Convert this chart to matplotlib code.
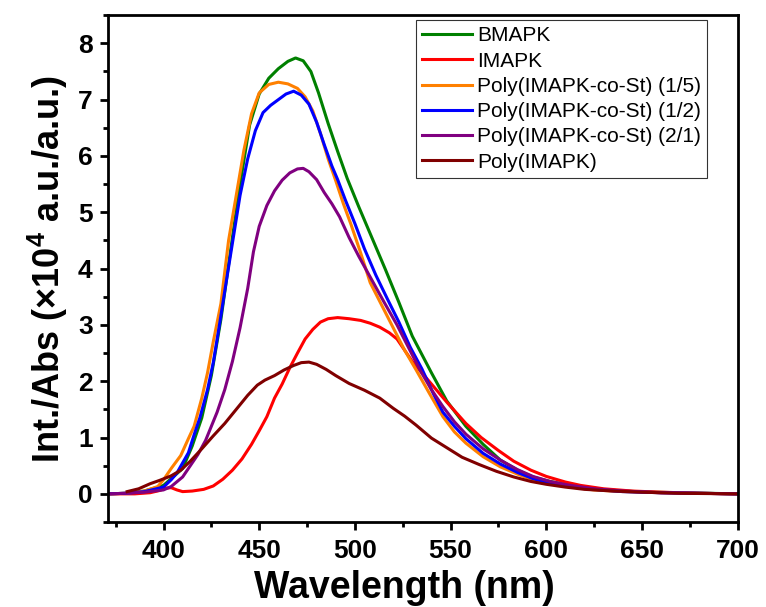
import matplotlib
matplotlib.use("Agg")
import matplotlib.pyplot as plt
from matplotlib.ticker import MultipleLocator

plt.rcParams["font.family"] = ["Liberation Sans", "DejaVu Sans"]
plt.rcParams["font.weight"] = "bold"
plt.rcParams["mathtext.fontset"] = "custom"
plt.rcParams["mathtext.rm"] = "Liberation Sans:bold"
plt.rcParams["mathtext.bf"] = "Liberation Sans:bold"

# ── data ─────────────────────────────────────────────────────────────────────
bmapk_x = [371, 380, 390, 400, 410, 415, 420, 425, 430, 436, 440, 445, 450, 455,
           460, 465, 469, 473, 477, 481, 486, 491, 496, 502, 508, 516, 523, 530,
           540, 548, 558, 567, 576, 585, 593, 602, 611, 625, 640, 655, 670, 685, 700]
bmapk_y = [0.0, 0.01, 0.05, 0.15, 0.45, 0.85, 1.35, 2.1, 3.1, 4.55, 5.5, 6.55, 7.1,
           7.38, 7.55, 7.68, 7.74, 7.69, 7.5, 7.12, 6.58, 6.08, 5.6, 5.1, 4.62, 3.98,
           3.4, 2.8, 2.15, 1.65, 1.2, 0.88, 0.6, 0.42, 0.3, 0.22, 0.16, 0.09, 0.05,
           0.03, 0.02, 0.01, 0.0]

imapk_x = [371, 385, 393, 398, 401, 404, 407, 410, 415, 421, 426, 431, 436, 441, 446,
           450, 454, 458, 462, 466, 470, 474, 478, 482, 486, 491, 497, 503, 508, 513,
           518, 522, 526, 530, 535, 540, 548, 558, 566, 575, 583, 592, 600, 610, 618,
           630, 645, 660, 680, 700]
imapk_y = [0.0, 0.0, 0.02, 0.06, 0.1, 0.11, 0.07, 0.04, 0.05, 0.08, 0.14, 0.26, 0.42,
           0.62, 0.88, 1.12, 1.37, 1.7, 1.95, 2.24, 2.5, 2.75, 2.92, 3.05, 3.11, 3.13,
           3.11, 3.08, 3.03, 2.96, 2.86, 2.75, 2.55, 2.35, 2.15, 1.95, 1.63, 1.25, 1.0,
           0.77, 0.58, 0.42, 0.31, 0.21, 0.15, 0.09, 0.05, 0.03, 0.01, 0.0]

co15_x = [371, 380, 390, 397, 400, 404, 409, 413, 416, 420, 423, 426, 430, 434, 438,
          442, 446, 450, 455, 460, 465, 470, 474, 478, 482, 486, 490, 494, 498, 503,
          508, 514, 520, 526, 532, 539, 546, 552, 558, 567, 576, 585, 593, 602, 611,
          625, 640, 660, 680, 700]
co15_y = [0.0, 0.01, 0.05, 0.13, 0.25, 0.45, 0.68, 0.98, 1.2, 1.7, 2.15, 2.7, 3.38,
          4.5, 5.3, 6.1, 6.75, 7.12, 7.27, 7.31, 7.28, 7.2, 7.05, 6.8, 6.4, 5.95, 5.56,
          5.15, 4.78, 4.28, 3.75, 3.35, 2.95, 2.55, 2.2, 1.78, 1.37, 1.1, 0.9, 0.66,
          0.48, 0.35, 0.25, 0.18, 0.13, 0.07, 0.04, 0.02, 0.01, 0.0]

co12_x = [371, 380, 390, 400, 404, 407, 410, 413, 416, 419, 423, 426, 429, 432, 436,
          440, 444, 448, 452, 456, 460, 464, 468, 472, 476, 480, 484, 488, 491, 495,
          500, 505, 511, 517, 523, 529, 535, 541, 546, 552, 558, 567, 576, 585, 593,
          602, 611, 625, 640, 660, 680, 700]
co12_y = [0.0, 0.01, 0.04, 0.12, 0.25, 0.37, 0.55, 0.73, 1.05, 1.35, 1.85, 2.33, 2.95,
          3.6, 4.45, 5.3, 5.95, 6.45, 6.77, 6.9, 7.0, 7.1, 7.15, 7.08, 6.92, 6.6, 6.2,
          5.82, 5.58, 5.22, 4.8, 4.35, 3.88, 3.46, 3.05, 2.6, 2.22, 1.78, 1.45, 1.2,
          0.98, 0.72, 0.53, 0.38, 0.27, 0.19, 0.14, 0.08, 0.04, 0.02, 0.01, 0.0]

co21_x = [371, 380, 390, 400, 404, 410, 414, 418, 422, 428, 432, 436, 440, 444, 447,
          450, 454, 458, 462, 466, 470, 473, 476, 480, 484, 488, 492, 497, 502, 508,
          515, 522, 528, 534, 540, 546, 552, 558, 567, 576, 585, 593, 602, 611, 625,
          640, 660, 680, 700]
co21_y = [0.0, 0.01, 0.03, 0.07, 0.13, 0.3, 0.5, 0.7, 0.95, 1.45, 1.85, 2.35, 2.95,
          3.65, 4.3, 4.75, 5.12, 5.38, 5.57, 5.7, 5.77, 5.78, 5.72, 5.58, 5.35, 5.15,
          4.92, 4.55, 4.22, 3.85, 3.42, 3.0, 2.6, 2.2, 1.85, 1.55, 1.28, 1.06, 0.8,
          0.6, 0.43, 0.31, 0.22, 0.16, 0.09, 0.05, 0.02, 0.01, 0.0]

poly_x = [381, 387, 393, 398, 404, 409, 414, 420, 426, 432, 438, 444, 449, 453, 458,
          463, 468, 472, 476, 480, 485, 490, 497, 505, 513, 520, 526, 532, 540, 548,
          556, 565, 574, 583, 592, 600, 610, 620, 635, 650, 670, 700]
poly_y = [0.04, 0.09, 0.18, 0.24, 0.32, 0.42, 0.58, 0.8, 1.03, 1.25, 1.5, 1.75, 1.93,
          2.02, 2.1, 2.2, 2.28, 2.33, 2.34, 2.3, 2.21, 2.1, 1.96, 1.84, 1.7, 1.52,
          1.38, 1.22, 0.99, 0.82, 0.65, 0.52, 0.4, 0.3, 0.22, 0.17, 0.12, 0.08, 0.05,
          0.03, 0.01, 0.0]

series = [
    (bmapk_x, bmapk_y, "BMAPK", "#008000"),
    (imapk_x, imapk_y, "IMAPK", "#ff0000"),
    (co15_x, co15_y, "Poly(IMAPK-co-St) (1/5)", "#ff8000"),
    (co12_x, co12_y, "Poly(IMAPK-co-St) (1/2)", "#0000ff"),
    (co21_x, co21_y, "Poly(IMAPK-co-St) (2/1)", "#800080"),
    (poly_x, poly_y, "Poly(IMAPK)", "#800000"),
]

fig = plt.figure(figsize=(7.66, 6.07), dpi=100)
ax = fig.add_axes([0.141, 0.140, 0.822, 0.835])

for xs, ys, name, color in series:
    ax.plot(xs, ys, color=color, lw=2.2, label=name)

ax.set_xlim(371, 700)
ax.set_ylim(-0.5, 8.5)
ax.xaxis.set_major_locator(MultipleLocator(50))
ax.xaxis.set_minor_locator(MultipleLocator(25))
ax.yaxis.set_major_locator(MultipleLocator(1))
ax.yaxis.set_minor_locator(MultipleLocator(0.5))

for sp in ax.spines.values():
    sp.set_linewidth(2.0)
ax.tick_params(which="major", direction="out", length=6, width=2.0,
               labelsize=19, top=False, right=False)
ax.tick_params(which="minor", direction="out", length=3.5, width=2.0,
               top=False, right=False)
ax.tick_params(axis="x", which="major", pad=6)
ax.tick_params(axis="y", which="major", pad=5)

ax.set_xlabel("Wavelength (nm)", fontsize=27, fontweight="bold", labelpad=0)
ax.xaxis.set_label_coords(0.471, -0.095)
ax.set_ylabel(r"Int./Abs (×10$^{4}$ a.u./a.u.)", fontsize=26,
              fontweight="bold", labelpad=6)

leg = ax.legend(loc="upper right", bbox_to_anchor=(0.952, 0.990),
                prop={"size": 15, "weight": "normal"},
                frameon=True, fancybox=False, edgecolor="black", borderaxespad=0,
                handlelength=2.4, handletextpad=0.25, labelspacing=0.3,
                borderpad=0.3)
leg.get_frame().set_linewidth(0.8)

fig.savefig("out.png", dpi=100)
